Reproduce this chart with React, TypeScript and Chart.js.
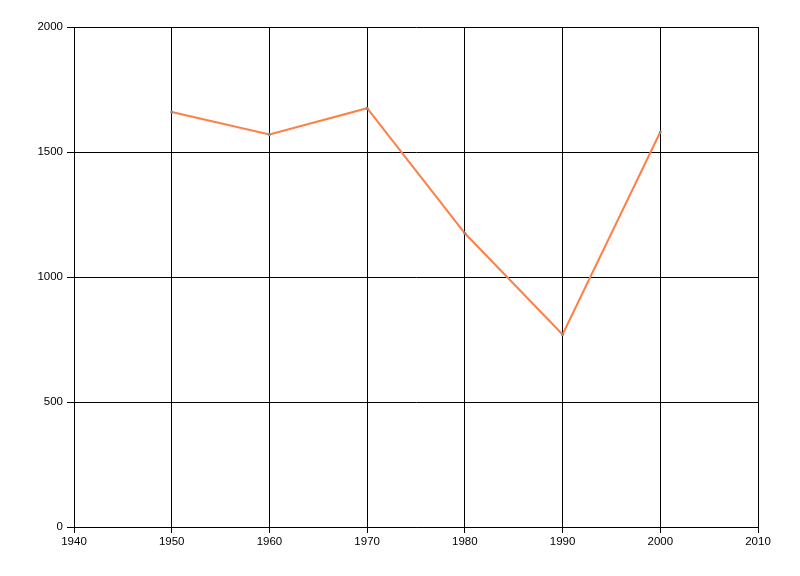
import React, { useEffect, useRef } from "react";
import { Chart, registerables } from "chart.js";

Chart.register(...registerables);

const years = [1950, 1960, 1970, 1980, 1990, 2000];
const values = [1660, 1570, 1675, 1175, 770, 1580];
const xMin = 1940;
const xMax = 2010;
const yMin = 0;
const yMax = 2000;

export default function App() {
  const ref = useRef<HTMLCanvasElement | null>(null);
  useEffect(() => {
    if (!ref.current) return;
    const chart = new Chart(ref.current, {
      type: "line",
      data: {
        datasets: [
          {
            data: years.map((y, i) => ({ x: y, y: values[i] })),
            borderColor: "#FF7F45",
            borderWidth: 2,
            pointRadius: 1.5,
            pointBorderWidth: 0,
            pointBackgroundColor: "#888888",
            tension: 0,
            fill: false,
          },
        ],
      },
      options: {
        animation: false,
        responsive: false,
        maintainAspectRatio: false,
        layout: { padding: { top: 27, right: 42, left: 0, bottom: 0 } },
        plugins: { legend: { display: false }, tooltip: { enabled: false } },
        scales: {
          x: {
            type: "linear",
            min: xMin,
            max: xMax,
            ticks: {
              stepSize: 10,
              color: "#000",
              padding: 2,
              font: { family: "Liberation Sans", size: 11.5 },
              callback: (v: any) => String(v),
              maxRotation: 0,
            },
            grid: { color: "#000", lineWidth: 1, tickLength: 6, tickColor: "#000" },
            border: { color: "#000", width: 1 },
            afterFit: (s: any) => {
              s.height = 49;
            },
          },
          y: {
            type: "linear",
            min: yMin,
            max: yMax,
            ticks: {
              stepSize: 500,
              color: "#000",
              padding: 4,
              font: { family: "Liberation Sans", size: 11.5 },
              callback: (v: any) => String(v),
            },
            grid: { color: "#000", lineWidth: 1, tickLength: 7, tickColor: "#000" },
            border: { color: "#000", width: 1 },
            afterFit: (s: any) => {
              s.width = 74;
            },
          },
        },
      },
    });
    return () => chart.destroy();
  }, []);
  return (
    <div style={{ position: "fixed", left: 0, top: 0, width: 800, height: 576, background: "#fff" }}>
      <canvas ref={ref} width={800} height={576} style={{ width: 800, height: 576 }} />
    </div>
  );
}
